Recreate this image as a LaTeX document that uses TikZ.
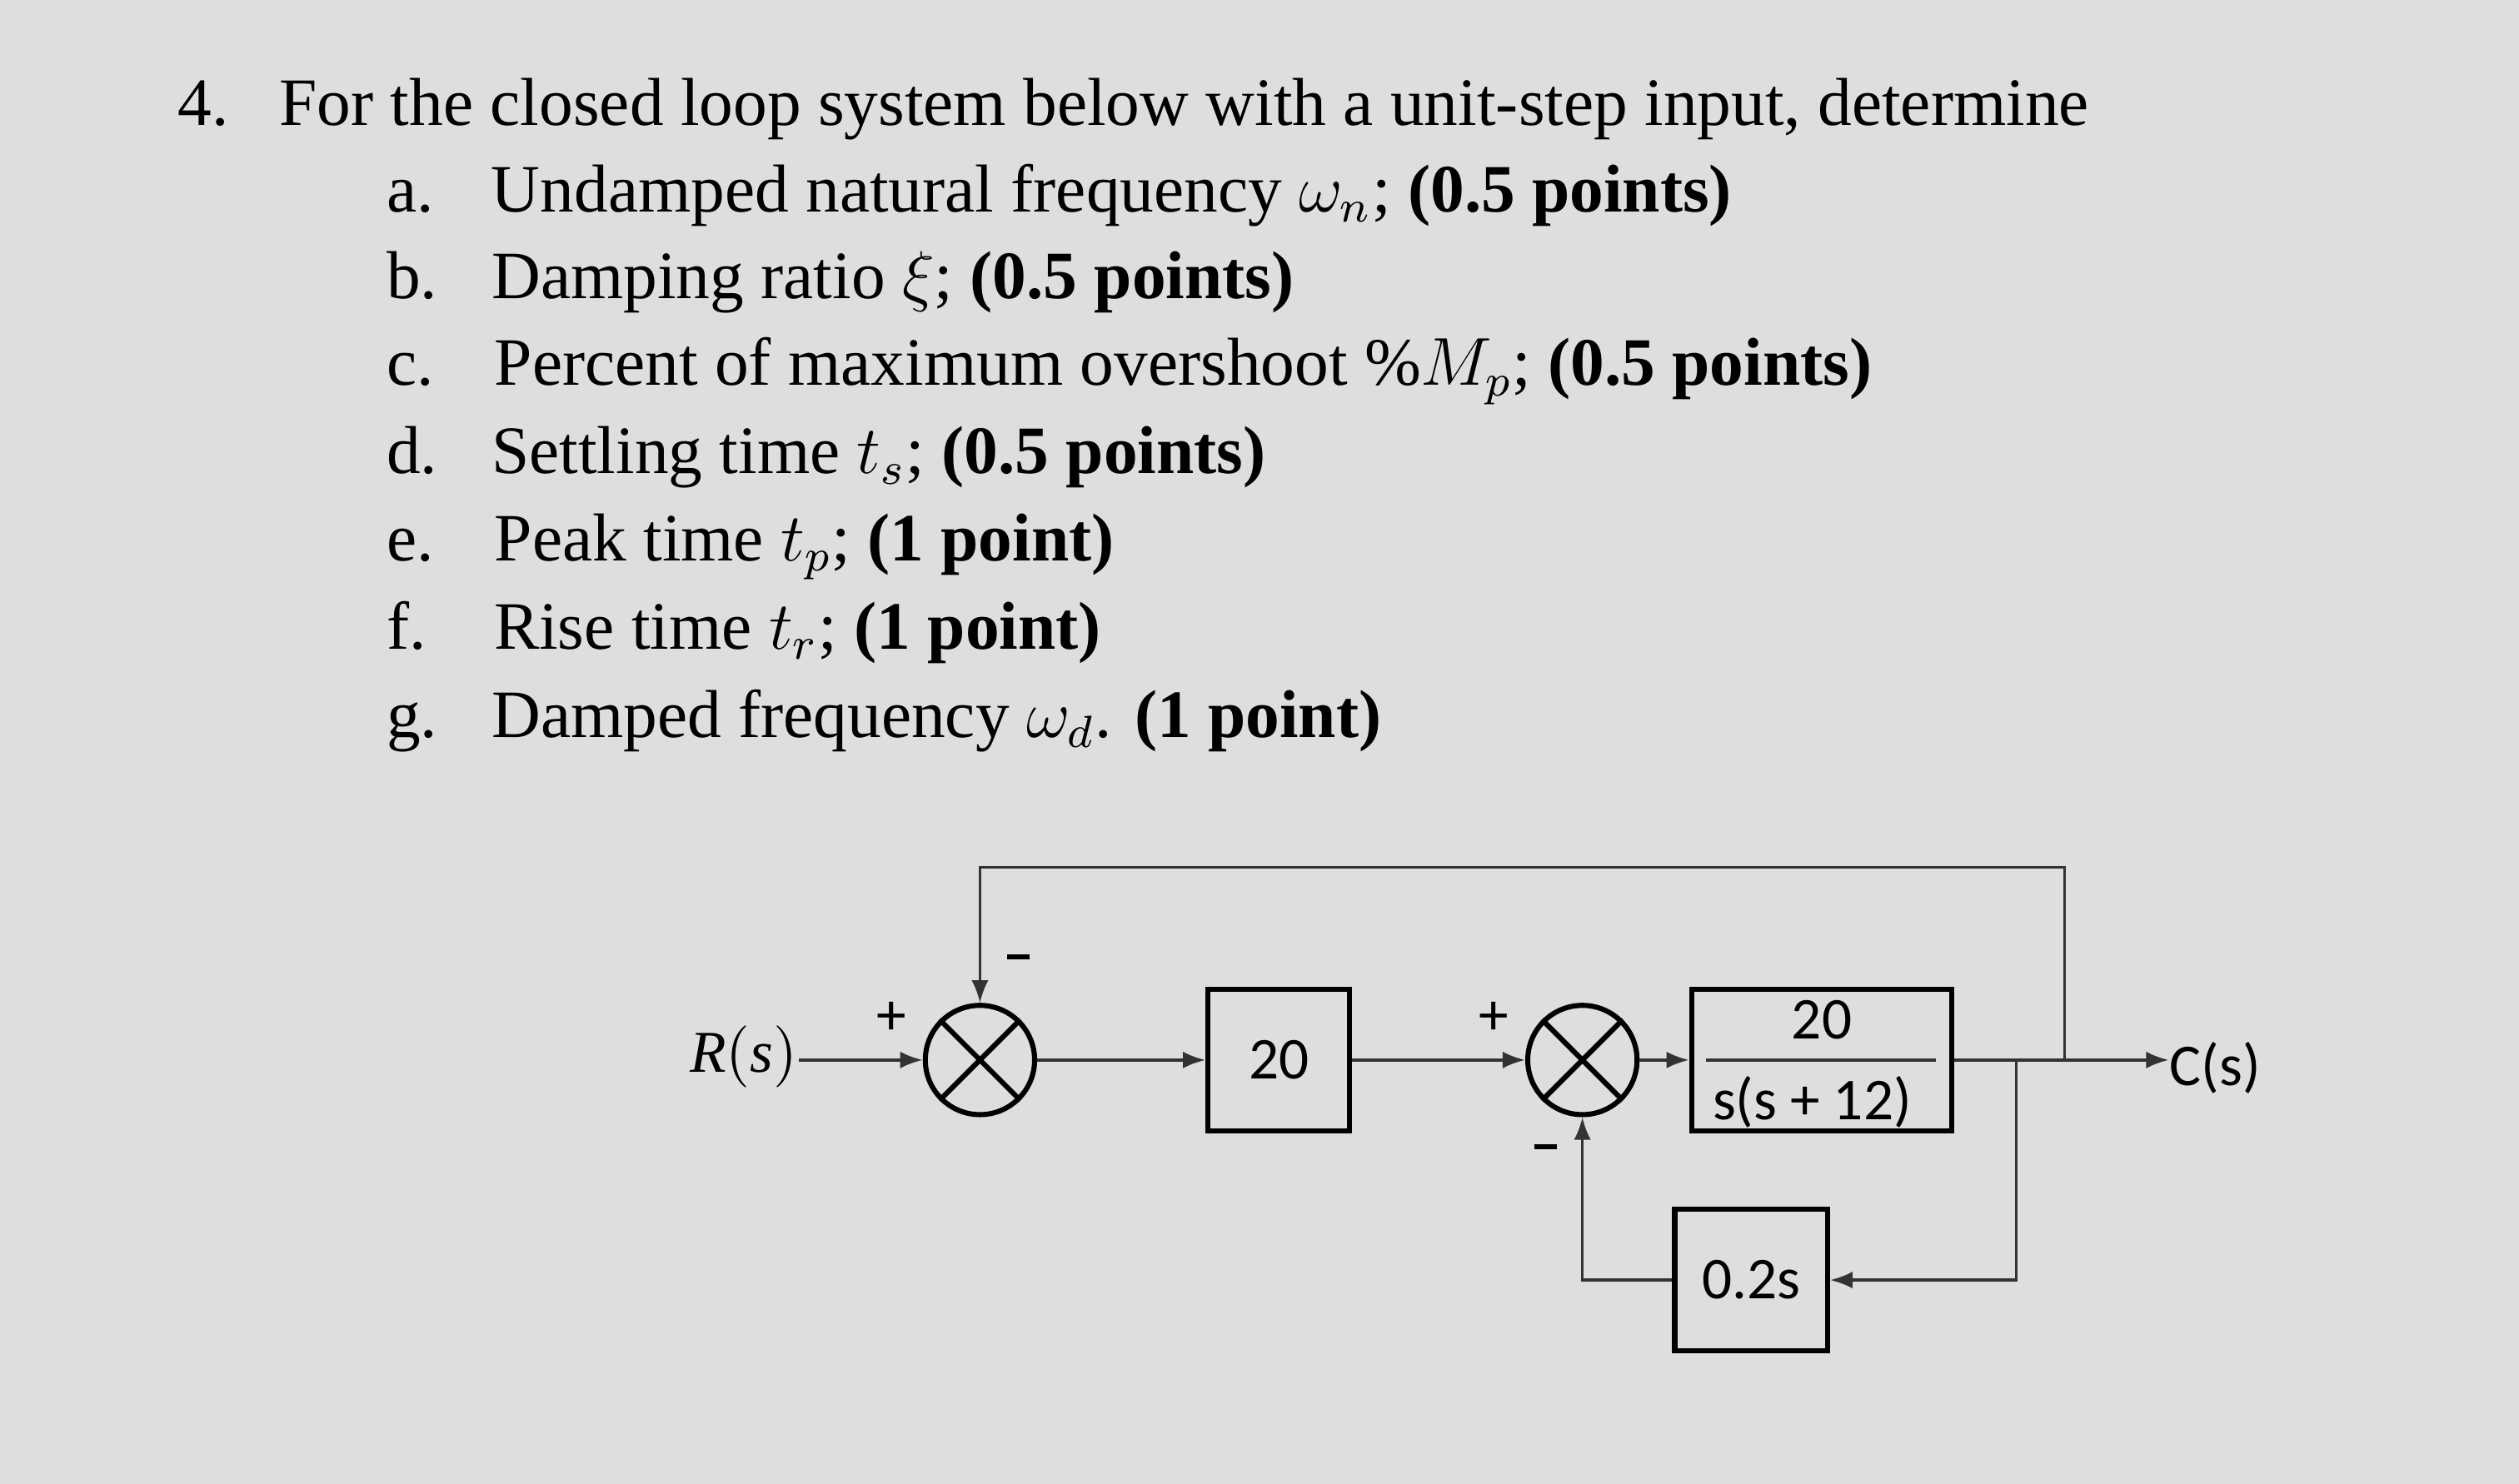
\documentclass[tikz,border=0pt]{standalone}
\usepackage{fontspec}
\setmainfont{Liberation Serif}
\newfontfamily\diag{Carlito}
\usetikzlibrary{arrows.meta}
\begin{document}
\begin{tikzpicture}[x=0.01cm,y=-0.01cm,
  txt/.style={anchor=base west,inner sep=0,font=\fontsize{12}{15}\selectfont},
  blk/.style={draw,line width=0.9pt,inner sep=0,font=\diag\fontsize{10.5}{12}\selectfont},
  sumj/.style={draw,line width=0.9pt,circle,minimum size=0.68cm,inner sep=0},
  wire/.style={line width=0.5pt,draw=black!80},
  arr/.style={wire,-{Latex[length=4pt,width=3pt]}},
  lab/.style={font=\diag\fontsize{10.5}{12}\selectfont,inner sep=0}]
\fill[black!13] (0,0) rectangle (1568,924);
\node[txt] (t0) at (110,78) {4.\hspace{0.75em}For the closed loop system below with a unit-step input, determine};
\node[txt] (ta) at (240,132) {a.\hspace{0.85em}Undamped natural frequency $\omega_n$; \textbf{(0.5 points)}};
\node[txt] (tb) at (240,186) {b.\hspace{0.8em}Damping ratio $\xi$; \textbf{(0.5 points)}};
\node[txt] (tc) at (240,240) {c.\hspace{0.9em}Percent of maximum overshoot $\%M_p$; \textbf{(0.5 points)}};
\node[txt] (td) at (240,295) {d.\hspace{0.8em}Settling time $t_s$; \textbf{(0.5 points)}};
\node[txt] (te) at (240,349) {e.\hspace{0.9em}Peak time $t_p$; \textbf{(1 point)}};
\node[txt] (tf) at (240,404) {f.\hspace{1.0em}Rise time $t_r$; \textbf{(1 point)}};
\node[txt] (tg) at (240,459) {g.\hspace{0.8em}Damped frequency $\omega_d$. \textbf{(1 point)}};
% diagram
\node[lab,anchor=east] (R) at (497,658) {$\mathit{R(s)}$};
\coordinate (Re) at (497,660);
\node[sumj] (s1) at (610,660) {};
\draw[line width=0.9pt] (s1.45) -- (s1.225) (s1.135) -- (s1.315);
\node[blk,minimum width=0.88cm,minimum height=0.88cm] (b1) at (796,660) {20};
\node[sumj] (s2) at (985,660) {};
\draw[line width=0.9pt] (s2.45) -- (s2.225) (s2.135) -- (s2.315);
\node[blk,minimum width=1.62cm,minimum height=0.88cm] (b2) at (1134,660) {};
\node[lab] (num) at (1134,635) {20};
\node[lab] (den) at (1128,686) {s(s + 12)};
\draw[wire] (1062,660) -- (1205,660);
\node[blk,minimum width=0.95cm,minimum height=0.88cm] (b3) at (1090,797) {0.2s};
\node[lab,anchor=west] (C) at (1350,665) {C(s)};
\coordinate (Cw) at (1350,660);
\node[lab] (p1) at (555,634) {+};
\node[lab] (p2) at (930,634) {+};
\coordinate (m1a) at (627,596); \coordinate (m1b) at (641,596);
\coordinate (m2a) at (955,714); \coordinate (m2b) at (969,714);
\draw[line width=0.9pt] (m1a) -- (m1b) (m2a) -- (m2b);
\coordinate (o1) at (1285,660);
\coordinate (o2) at (1285,540);
\coordinate (o3) at (610,540);
\coordinate (i1) at (1255,660);
\coordinate (i2) at (1255,797);
\coordinate (i3) at (985,797);
\draw[arr] (Re) -- (s1.west);
\draw[arr] (s1.east) -- (b1.west);
\draw[arr] (b1.east) -- (s2.west);
\draw[arr] (s2.east) -- (b2.west);
\draw[arr] (b2.east) -- (Cw);
\draw[arr] (o1) -- (o2) -- (o3) -- (s1.north);
\draw[arr] (i1) -- (i2) -- (b3.east);
\draw[arr] (b3.west) -- (i3) -- (s2.south);
\end{tikzpicture}
\end{document}
